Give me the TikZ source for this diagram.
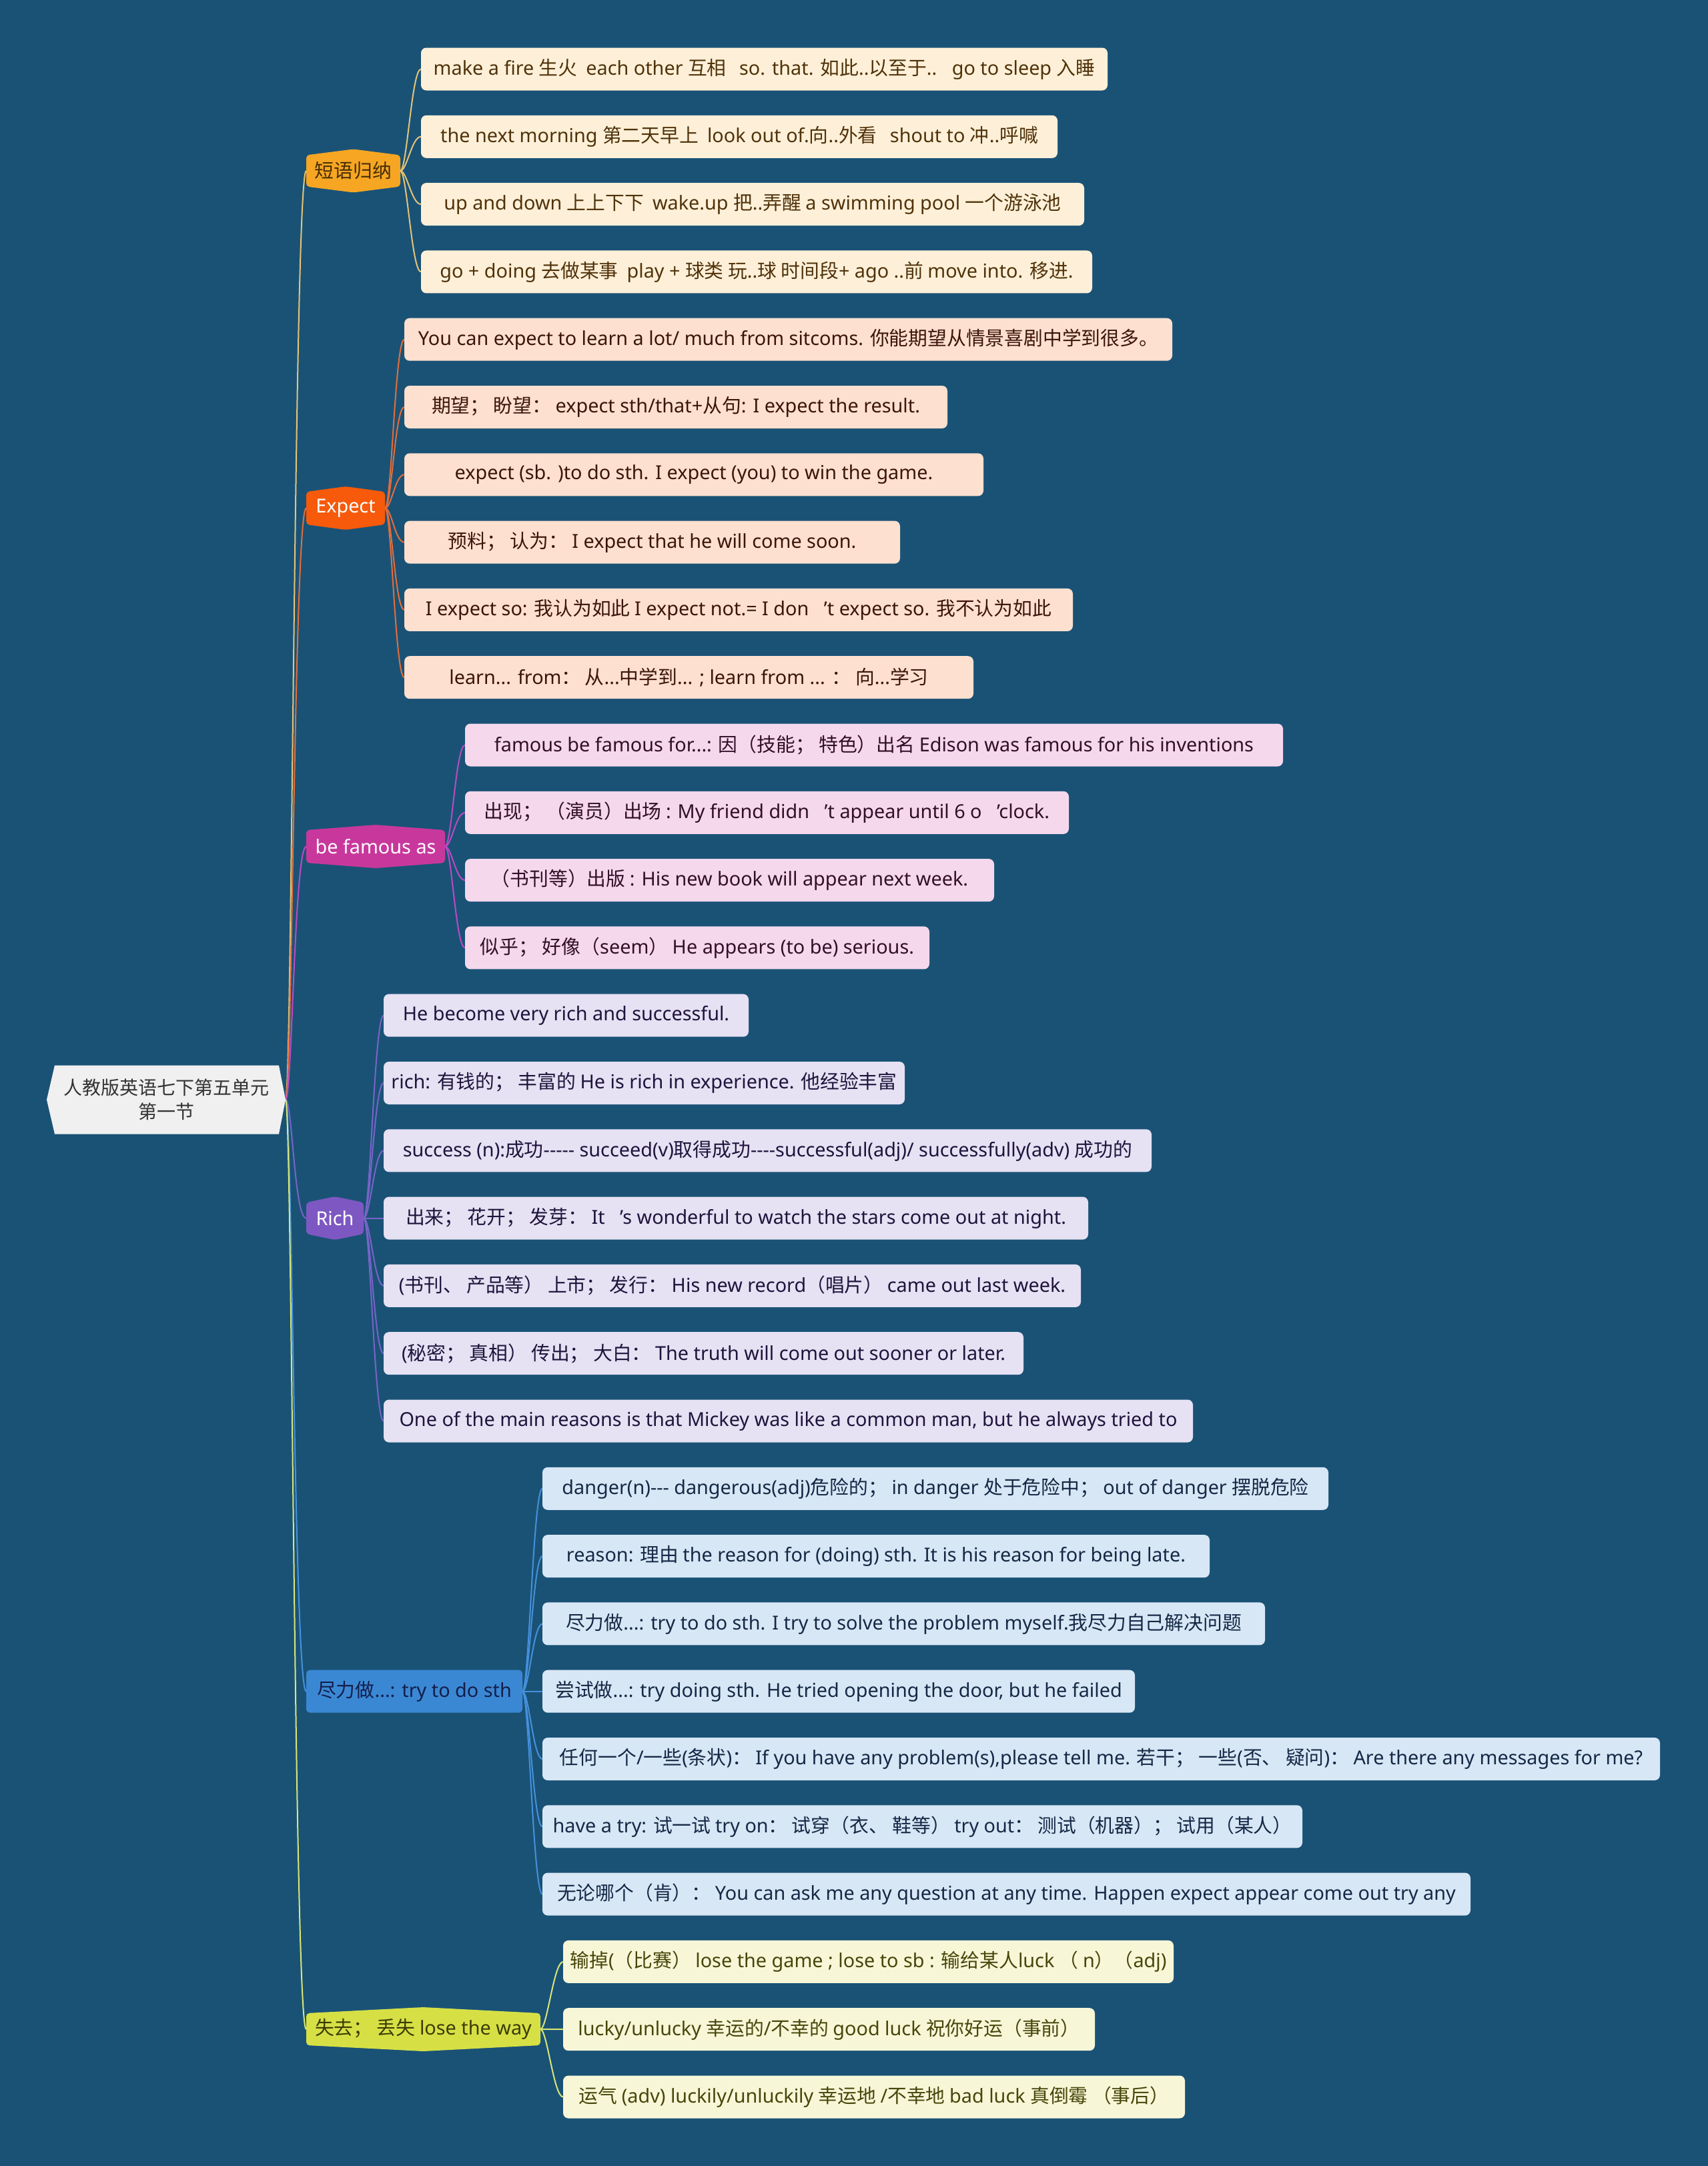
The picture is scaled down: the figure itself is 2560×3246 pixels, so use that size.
\documentclass[tikz,border=0pt]{standalone}
\usepackage{fontspec}
\setmainfont{Noto Sans}
\newfontfamily\latf{Noto Sans}
\newfontfamily\cjkf{Noto Sans CJK SC}
\XeTeXinterchartokenstate=1
\newXeTeXintercharclass\CJKcls
\newcount\cc
\def\setcls#1#2{\cc=#1\relax\loop\XeTeXcharclass\cc=\CJKcls\relax\ifnum\cc<#2\relax\advance\cc by 1\repeat}
\setcls{"3000}{"303F}
\setcls{"4E00}{"9FFF}
\setcls{"FF00}{"FFEF}
\XeTeXinterchartoks 0 \CJKcls = {\cjkf}
\XeTeXinterchartoks 4095 \CJKcls = {\cjkf}
\XeTeXinterchartoks \CJKcls 0 = {\latf}
\XeTeXinterchartoks 4095 0 = {\latf}
\usetikzlibrary{calc}
\definecolor{bgc}{RGB}{26,82,118}
\definecolor{rootF}{RGB}{240,240,240}
\definecolor{rootT}{RGB}{51,51,51}
% branch fills
\definecolor{bf1}{RGB}{246,166,35}
\definecolor{bf2}{RGB}{246,90,10}
\definecolor{bf3}{RGB}{200,56,156}
\definecolor{bf4}{RGB}{126,88,194}
\definecolor{bf5}{RGB}{58,136,212}
\definecolor{bf6}{RGB}{214,224,69}
% branch texts
\definecolor{bt1}{RGB}{70,45,5}
\definecolor{bt5}{RGB}{20,30,75}
\definecolor{bt6}{RGB}{60,60,5}
% connectors
\definecolor{cn1}{RGB}{228,196,120}
\definecolor{cn2}{RGB}{225,110,60}
\definecolor{cn3}{RGB}{185,75,195}
\definecolor{cn4}{RGB}{120,100,200}
\definecolor{cn5}{RGB}{70,145,220}
\definecolor{cn6}{RGB}{215,230,120}
% leaf fills and texts
\definecolor{lf1}{RGB}{254,240,216}\definecolor{tx1}{RGB}{80,50,10}
\definecolor{lf2}{RGB}{253,224,207}\definecolor{tx2}{RGB}{60,20,10}
\definecolor{lf3}{RGB}{245,216,236}\definecolor{tx3}{RGB}{50,15,40}
\definecolor{lf4}{RGB}{230,225,243}\definecolor{tx4}{RGB}{30,20,60}
\definecolor{lf5}{RGB}{216,231,245}\definecolor{tx5}{RGB}{20,40,70}
\definecolor{lf6}{RGB}{247,247,216}\definecolor{tx6}{RGB}{70,70,10}
\pgfdeclarelayer{bgl}\pgfdeclarelayer{conn}\pgfdeclarelayer{shp}
\pgfsetlayers{bgl,conn,shp,main}
\newcommand\hy{-\kern0pt }
\newcommand\fs{\fontsize{7.2pt}{9pt}\selectfont}
\newcommand\fsroot{\fontsize{7pt}{9pt}\selectfont}
\newcommand\lf[5]{\node[leaf,#4,minimum width=#3*0.25pt] (#1) at (#2) {#5};}
\newcommand\hexfill[3]{\begin{pgfonlayer}{shp}\fill[#2,rounded corners=1.2pt] ($(#1.north west)+(0,#3)$) -- (#1.north) -- ($(#1.north east)+(0,#3)$) -- ($(#1.south east)+(0,-#3)$) -- (#1.south) -- ($(#1.south west)+(0,-#3)$) -- cycle;\end{pgfonlayer}}
\newcommand\cn[3]{\draw[#1] (#2.east) .. controls +(10,0) and +(-14,0) .. (#3.west);}
\begin{document}
\begin{tikzpicture}[x=0.25pt,y=-0.25pt,
  every node/.style={inner sep=0pt,outer sep=0pt,font=\fs},
  leaf/.style={anchor=west,rounded corners=2pt,minimum height=16pt},
  g1/.style={fill=lf1,text=tx1}, g2/.style={fill=lf2,text=tx2},
  g3/.style={fill=lf3,text=tx3}, g4/.style={fill=lf4,text=tx4},
  g5/.style={fill=lf5,text=tx5}, g6/.style={fill=lf6,text=tx6},
  br/.style={minimum height=16.25pt},
  k1/.style={draw=cn1,line width=0.5pt}, k2/.style={draw=cn2,line width=0.5pt},
  k3/.style={draw=cn3,line width=0.5pt}, k4/.style={draw=cn4,line width=0.5pt},
  k5/.style={draw=cn5,line width=0.5pt}, k6/.style={draw=cn6,line width=0.5pt}]
\begin{pgfonlayer}{bgl}
\fill[bgc] (0,0) rectangle (2560,3246);
\end{pgfonlayer}

% root
\node[minimum width=358*0.25pt,minimum height=103*0.25pt,align=center,text=rootT,font=\fsroot] (root) at (249,1648) {人教版英语七下第五单元\\第一节};
\begin{pgfonlayer}{shp}
\fill[rootF] (root.west) -- ($(root.north west)+(12,0)$) -- ($(root.north east)+(-10,0)$) -- (root.east) -- ($(root.south east)+(-10,0)$) -- ($(root.south west)+(12,0)$) -- cycle;
\end{pgfonlayer}

% branches
\node[br,text=bt1,minimum width=141*0.25pt] (b1) at (529.5,256) {短语归纳};
\node[br,text=white,minimum width=118*0.25pt] (b2) at (518,761.5) {Expect};
\node[br,text=white,minimum width=208*0.25pt] (b3) at (563,1268.5) {be famous as};
\node[br,text=white,minimum width=86*0.25pt] (b4) at (502,1825.6) {Rich};
\node[br,text=bt5,fill=bf5,rounded corners=1.5pt,minimum height=16pt,minimum width=324*0.25pt] (b5) at (621,2534.7) {尽力做...: try to do sth};
\node[br,text=bt6,minimum width=351*0.25pt,minimum height=16.5pt] (b6) at (634.5,3041) {失去；~丢失 lose the way};
\hexfill{b1}{bf1}{9}
\hexfill{b2}{bf2}{8}
\hexfill{b3}{bf3}{8}
\hexfill{b4}{bf4}{9}
\hexfill{b6}{bf6}{9}

% group 1
\lf{a1}{631,103.5}{1029}{g1}{make a fire 生火~~each other 互相~~~so. that. 如此..以至于..~~~go to sleep 入睡}
\lf{a2}{631,204.8}{954}{g1}{the next morning 第二天早上~~look out of.向..外看~~~shout to 冲..呼喊}
\lf{a3}{631,306.1}{994}{g1}{up and down 上上下下~~wake.up 把..弄醒 a swimming pool 一个游泳池}
\lf{a4}{631,407.4}{1006}{g1}{go + doing 去做某事~~play + 球类 玩..球 时间段+ ago ..前 move into. 移进.}
% group 2
\lf{e1}{606,508.7}{1151}{g2}{You can expect to learn a lot/ much from sitcoms. 你能期望从情景喜剧中学到很多。}
\lf{e2}{606,610.0}{814}{g2}{期望；~盼望：~expect sth/that+从句: I expect the result.}
\lf{e3}{606,711.3}{868}{g2}{expect (sb. )to do sth. I expect (you) to win the game.}
\lf{e4}{606,812.6}{743}{g2}{预料；~认为：~I expect that he will come soon.}
\lf{e5}{606,913.9}{1002}{g2}{I expect so: 我认为如此 I expect not.= I don~~~’t expect so. 我不认为如此}
\lf{e6}{606,1015.2}{853}{g2}{learn... from：~从...中学到... ; learn from ... ：~向...学习}
% group 3
\lf{f1}{697,1116.5}{1226}{g3}{famous be famous for...: 因（技能；~特色）出名 Edison was famous for his inventions}
\lf{f2}{697,1217.8}{905}{g3}{出现；~（演员）出场 : My friend didn~~~’t appear until 6 o~~~’clock.}
\lf{f3}{697,1319.1}{793}{g3}{（书刊等）出版 : His new book will appear next week.}
\lf{f4}{697,1420.4}{696}{g3}{似乎；~好像（seem）~He appears (to be) serious.}
% group 4
\lf{r1}{575,1521.7}{547}{g4}{He become very rich and successful.}
\lf{r2}{575,1623.0}{781}{g4}{rich: 有钱的；~丰富的 He is rich in experience. 他经验丰富}
\lf{r3}{575,1724.3}{1151}{g4}{success (n):成功\hy\hy\hy\hy- succeed(v)取得成功\hy\hy\hy-successful(adj)/ successfully(adv) 成功的}
\lf{r4}{575,1825.6}{1056}{g4}{出来；~花开；~发芽：~It~~~’s wonderful to watch the stars come out at night.}
\lf{r5}{575,1926.9}{1045}{g4}{(书刊、~产品等）~上市；~发行：~His new record（唱片）~came out last week.}
\lf{r6}{575,2028.2}{959}{g4}{(秘密；~真相）~传出；~大白：~The truth will come out sooner or later.}
\lf{r7}{575,2129.5}{1213}{g4}{One of the main reasons is that Mickey was like a common man, but he always tried to}
% group 5
\lf{t1}{813,2230.8}{1178}{g5}{danger(n)\hy\hy- dangerous(adj)危险的；~in danger 处于危险中；~out of danger 摆脱危险}
\lf{t2}{813,2332.1}{1000}{g5}{reason: 理由 the reason for (doing) sth. It is his reason for being late.}
\lf{t3}{813,2433.4}{1083}{g5}{尽力做...: try to do sth. I try to solve the problem myself.我尽力自己解决问题}
\lf{t4}{813,2534.7}{888}{g5}{尝试做...: try doing sth. He tried opening the door, but he failed}
\lf{t5}{813,2636.0}{1675}{g5}{任何一个/一些(条状)：~If you have any problem(s),please tell me. 若干；~一些(否、~疑问)：~Are there any messages for me?}
\lf{t6}{813,2737.3}{1139}{g5}{have a try: 试一试 try on：~试穿（衣、~鞋等）~try out：~测试（机器）；~试用（某人）}
\lf{t7}{813,2838.6}{1391}{g5}{无论哪个（肯）：~You can ask me any question at any time. Happen expect appear come out try any}
% group 6
\lf{s1}{844,2939.9}{915}{g6}{输掉(（比赛）~lose the game ; lose to sb : 输给某人luck （ n）（adj)}
\lf{s2}{844,3041.2}{797}{g6}{lucky/unlucky 幸运的/不幸的 good luck 祝你好运（事前）}
\lf{s3}{844,3142.5}{932}{g6}{运气 (adv) luckily/unluckily 幸运地 /不幸地 bad luck 真倒霉 （事后）}

\begin{pgfonlayer}{conn}
\draw[k1] (root.east) .. controls +(10,0) and +(-18,0) .. (b1.west);
\draw[k2] (root.east) .. controls +(10,0) and +(-18,0) .. (b2.west);
\draw[k3] (root.east) .. controls +(10,0) and +(-18,0) .. (b3.west);
\draw[k4] (root.east) .. controls +(10,0) and +(-18,0) .. (b4.west);
\draw[k5] (root.east) .. controls +(10,0) and +(-18,0) .. (b5.west);
\draw[k6] (root.east) .. controls +(10,0) and +(-18,0) .. (b6.west);
\foreach \l in {a1,a2,a3,a4}{\cn{k1}{b1}{\l}}
\foreach \l in {e1,e2,e3,e4,e5,e6}{\cn{k2}{b2}{\l}}
\foreach \l in {f1,f2,f3,f4}{\cn{k3}{b3}{\l}}
\foreach \l in {r1,r2,r3,r4,r5,r6,r7}{\cn{k4}{b4}{\l}}
\foreach \l in {t1,t2,t3,t4,t5,t6,t7}{\cn{k5}{b5}{\l}}
\foreach \l in {s1,s2,s3}{\cn{k6}{b6}{\l}}
\end{pgfonlayer}
\end{tikzpicture}
\end{document}
